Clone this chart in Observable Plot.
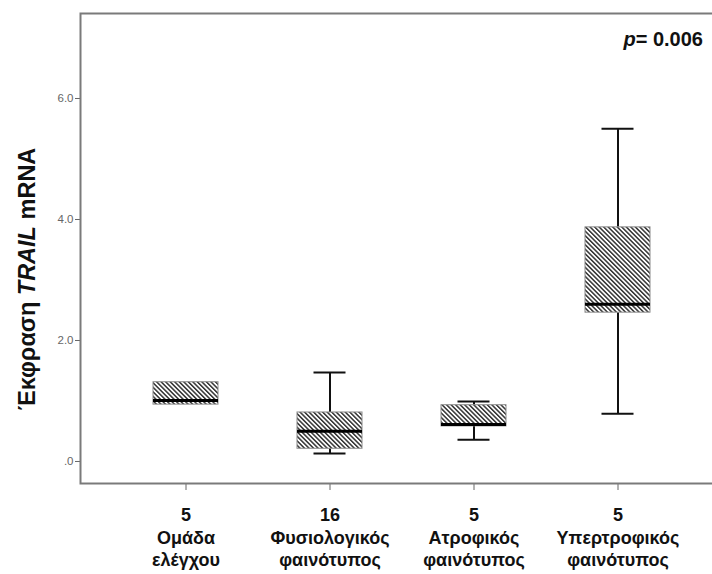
<!DOCTYPE html>
<html>
<head>
<meta charset="utf-8">
<script src="https://cdn.jsdelivr.net/npm/d3@7"></script>
<script src="https://cdn.jsdelivr.net/npm/@observablehq/plot@0.6"></script>
<style>
  html, body { margin: 0; padding: 0; background: white; }
</style>
</head>
<body>
<div id="chart"></div>
<script>
// ---- data ----
const categories = ["Ομάδα ελέγχου", "Φυσιολογικός φαινότυπος", "Ατροφικός φαινότυπος", "Υπερτροφικός φαινότυπος"];
const tickLabels = ["Ομάδα\nελέγχου", "Φυσιολογικός\nφαινότυπος", "Ατροφικός\nφαινότυπος", "Υπερτροφικός\nφαινότυπος"];
const counts = [5, 16, 5, 5];
const whiskerLow = [0.94, 0.13, 0.36, 0.79];
const quart1 = [0.94, 0.21, 0.58, 2.46];
const medians = [1.01, 0.50, 0.61, 2.60];
const quart3 = [1.31, 0.81, 0.93, 3.87];
const whiskerHigh = [1.31, 1.47, 0.99, 5.50];
const yTicks = [0, 2, 4, 6];
const yLabelParts = ["Έκφραση ", "TRAIL", " mRNA"];
const pLabelParts = ["p", "= 0.006"];

const stats = categories.map((c, i) => ({
  cat: c, lo: whiskerLow[i], q1: quart1[i], med: medians[i], q3: quart3[i], hi: whiskerHigh[i],
  label: `${counts[i]}\n${tickLabels[i]}`
}));
const upperW = stats.filter(d => d.hi > d.q3);
const lowerW = stats.filter(d => d.lo < d.q1);

const font = "'Liberation Sans', Arial, Helvetica, sans-serif";

const svg = Plot.plot({
  width: 712,
  height: 574,
  marginLeft: 80,
  marginRight: -12,
  marginTop: 13,
  marginBottom: 91,
  style: { fontFamily: font, fontSize: "11.5px", color: "#666", background: "white" },
  x: {
    type: "band", domain: categories, range: [80, 723.5],
    paddingInner: 0.55, paddingOuter: 0.5, align: 0.5,
    tickSize: 7, tickFormat: () => "", label: null
  },
  y: {
    domain: [-0.364, 7.405], ticks: yTicks,
    tickFormat: d => d === 0 ? ".0" : d.toFixed(1),
    tickSize: 5, tickPadding: 2, label: null
  },
  marks: [
    Plot.ruleX(upperW, { x: "cat", y1: "q3", y2: "hi", stroke: "#111", strokeWidth: 2 }),
    Plot.ruleX(lowerW, { x: "cat", y1: "lo", y2: "q1", stroke: "#111", strokeWidth: 2 }),
    Plot.tickY(upperW, { x: "cat", y: "hi", stroke: "#111", strokeWidth: 2, insetLeft: 16.5, insetRight: 16.5 }),
    Plot.tickY(lowerW, { x: "cat", y: "lo", stroke: "#111", strokeWidth: 2, insetLeft: 16.5, insetRight: 16.5 }),
    Plot.barY(stats, { x: "cat", y1: "q1", y2: "q3", fill: "url(#hatch)", stroke: "#8a8a8a", strokeWidth: 1 }),
    Plot.tickY(stats, { x: "cat", y: "med", stroke: "#000", strokeWidth: 3 }),
    Plot.text(stats, {
      x: "cat", text: "label", frameAnchor: "bottom", dy: 22, lineAnchor: "top",
      lineHeight: 1.25, fontSize: 18, fontWeight: "bold", fill: "#111"
    }),
    Plot.frame({ stroke: "#7a7a7a", strokeWidth: 2 })
  ]
});

// hatch pattern for the boxes
const s = d3.select(svg);
const pat = s.insert("defs", ":first-child").append("pattern")
  .attr("id", "hatch").attr("patternUnits", "userSpaceOnUse")
  .attr("width", 3.2).attr("height", 3.2).attr("patternTransform", "rotate(-45)");
pat.append("rect").attr("width", 3.2).attr("height", 3.2).attr("fill", "white");
pat.append("rect").attr("width", 1.5).attr("height", 3.2).attr("fill", "#333");

// y-axis title with italic gene name
const yl = s.append("text")
  .attr("transform", "translate(35,279) rotate(-90)")
  .attr("text-anchor", "middle")
  .attr("font-family", font).attr("font-size", 23.5).attr("font-weight", "bold").attr("fill", "#111");
yLabelParts.forEach((t, i) => yl.append("tspan").attr("font-style", i === 1 ? "italic" : "normal").text(t));

// p-value annotation
const pl = s.append("text")
  .attr("x", 703).attr("y", 46).attr("text-anchor", "end")
  .attr("font-family", font).attr("font-size", 20).attr("font-weight", "bold").attr("fill", "#111");
pLabelParts.forEach((t, i) => pl.append("tspan").attr("font-style", i === 0 ? "italic" : "normal").text(t));

document.getElementById("chart").appendChild(svg);
</script>
</body>
</html>
